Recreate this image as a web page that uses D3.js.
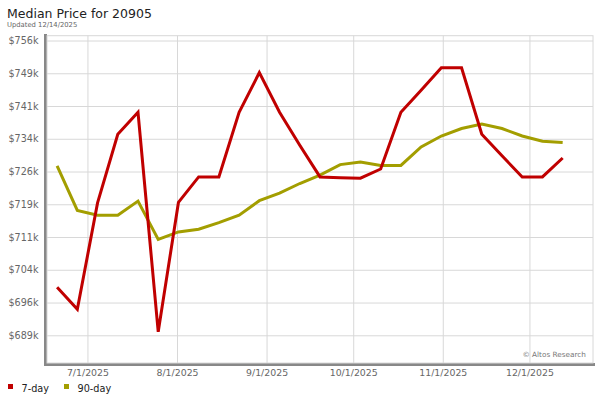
<!DOCTYPE html>
<html>
<head>
<meta charset="utf-8">
<script src="https://cdn.jsdelivr.net/npm/d3@7"></script>
<style>
  body { margin: 0; background: #fff; }
  svg { font-family: "DejaVu Sans", sans-serif; }
</style>
</head>
<body>
<svg id="chart" width="600" height="400"></svg>
<script>
// weekly dates (Fridays)
var dates = [
  "2025-06-20", "2025-06-27", "2025-07-04", "2025-07-11", "2025-07-18",
  "2025-07-25", "2025-08-01", "2025-08-08", "2025-08-15", "2025-08-22",
  "2025-08-29", "2025-09-05", "2025-09-12", "2025-09-19", "2025-09-26",
  "2025-10-03", "2025-10-10", "2025-10-17", "2025-10-24", "2025-10-31",
  "2025-11-07", "2025-11-14", "2025-11-21", "2025-11-28", "2025-12-05",
  "2025-12-12"
];

// median price in $k
var sevenDay = [
  699.9, 694.9, 719.1, 734.7, 739.7, 689.8, 719.2, 725.0, 725.0, 739.7,
  748.7, 739.7, 732.2, 725.0, 724.8, 724.7, 726.8, 739.7, 744.7, 749.8,
  749.8, 734.7, 729.8, 725.0, 725.0, 729.3
];
var ninetyDay = [
  727.5, 717.4, 716.3, 716.3, 719.5, 710.8, 712.5, 713.1, 714.6, 716.3,
  719.6, 721.3, 723.5, 725.4, 727.8, 728.4, 727.6, 727.6, 731.8, 734.3,
  736.0, 737.0, 736.0, 734.3, 733.1, 732.8
];

var yTicks = [689.000, 696.445, 703.890, 711.335, 718.780, 726.225, 733.670, 741.115, 748.560, 756.005];
var xTicks = ["2025-07-01", "2025-08-01", "2025-09-01", "2025-10-01", "2025-11-01", "2025-12-01"];

var seriesNames = ["7-day", "90-day"];
var seriesColors = ["#c00000", "#a39e00"];

var parseDate = d3.timeParse("%Y-%m-%d");
var svg = d3.select("#chart");

var plotLeft = 47, plotRight = 593, plotTop = 35.7, plotBottom = 363;

var x = d3.scaleTime()
  .domain([parseDate("2025-06-17"), parseDate("2025-12-23")])
  .range([plotLeft, plotRight]);
var y = d3.scaleLinear().domain([682.70, 757.10]).range([plotBottom, plotTop]);

// title
svg.append("text").attr("x", 7).attr("y", 18.3)
  .style("font-size", "12.5px").attr("fill", "#222")
  .text("Median Price for 20905");
svg.append("text").attr("x", 7).attr("y", 26.7)
  .style("font-size", "6.8px").attr("fill", "#666")
  .text("Updated 12/14/2025");

// plot frame + shadow
svg.append("rect").attr("x", 44).attr("y", 34).attr("width", 3).attr("height", 332).attr("fill", "#888");
svg.append("rect").attr("x", 44).attr("y", plotBottom).attr("width", 551).attr("height", 3).attr("fill", "#888");
svg.append("rect").attr("x", plotLeft).attr("y", plotTop)
  .attr("width", plotRight - plotLeft).attr("height", plotBottom - plotTop)
  .attr("fill", "#fff").attr("stroke", "#d8d8d8");

// horizontal grid + y labels
var yAxis = svg.append("g")
  .attr("transform", `translate(${plotLeft},0)`)
  .call(d3.axisLeft(y).tickValues(yTicks).tickSize(-(plotRight - plotLeft))
    .tickFormat((d) => "$" + Math.round(d) + "k"));
yAxis.select(".domain").remove();
yAxis.selectAll("line").attr("stroke", "#d8d8d8");
yAxis.selectAll("text").attr("x", -8.5).attr("fill", "#666")
  .style("font-size", "9.6px").style("font-family", "DejaVu Sans");

// vertical grid + x labels
var xAxis = svg.append("g")
  .attr("transform", `translate(0,${plotBottom})`)
  .call(d3.axisBottom(x).tickValues(xTicks.map(parseDate)).tickSize(-(plotBottom - plotTop))
    .tickFormat(d3.timeFormat("%-m/%-d/%Y")));
xAxis.select(".domain").remove();
xAxis.selectAll("line").attr("stroke", "#d8d8d8");
xAxis.selectAll("text").attr("y", 6).attr("fill", "#666")
  .style("font-size", "9.4px").style("font-family", "DejaVu Sans");

// watermark
svg.append("text").attr("x", 586).attr("y", 357).attr("text-anchor", "end")
  .style("font-size", "7.3px").attr("fill", "#777")
  .text("\u00a9 Altos Research");

// lines (points sit at midday of each date)
var line = d3.line()
  .x((d, i) => x(d3.timeHour.offset(parseDate(dates[i]), 12)))
  .y((d) => y(d));

[ninetyDay, sevenDay].forEach(function (s, i) {
  svg.append("path")
    .datum(s)
    .attr("fill", "none")
    .attr("stroke", i == 0 ? seriesColors[1] : seriesColors[0])
    .attr("stroke-width", 3)
    .attr("d", line);
});

// legend
var legend = svg.append("g").attr("transform", "translate(8,384)");
seriesNames.forEach(function (name, i) {
  var g = legend.append("g").attr("transform", `translate(${i * 56},0)`);
  g.append("rect").attr("width", 5).attr("height", 5).attr("fill", seriesColors[i]);
  g.append("text").attr("x", 13.5).attr("y", 7.7)
    .style("font-size", "9.7px").attr("fill", "#222").text(name);
});
</script>
</body>
</html>
